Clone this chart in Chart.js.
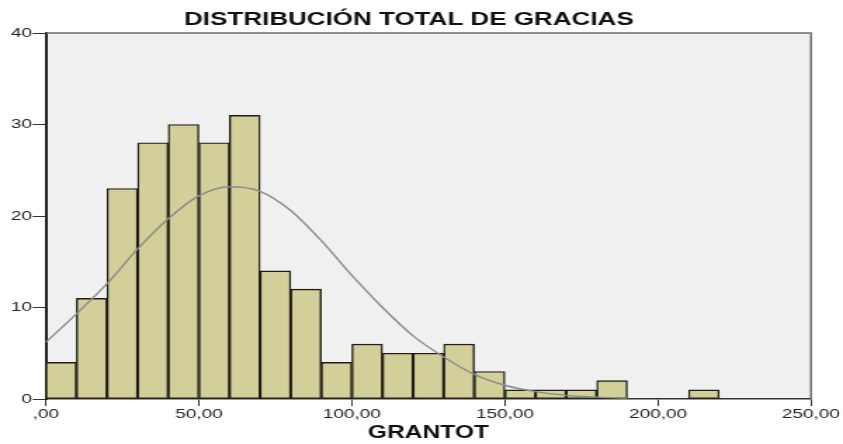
<!DOCTYPE html>
<html>
<head>
<meta charset="utf-8">
<script src="https://cdn.jsdelivr.net/npm/chart.js@4/dist/chart.umd.min.js"></script>
<style>
  body { margin: 0; background: #fff; }
</style>
</head>
<body>
<!-- canvas is drawn narrow and stretched, like the original export -->
<canvas id="myChart" width="600" height="444" style="width:843px;height:444px"></canvas>
<script>
var chartTitle = "DISTRIBUCIÓN TOTAL DE GRACIAS";
var axisTitle = "GRANTOT";

// histogram bins (centre of each 10-wide bin) and counts
var binCenters = [5, 15, 25, 35, 45, 55, 65, 75, 85, 95, 105, 115, 125, 135, 145, 155, 165, 175, 185, 195, 205, 215];
var counts = [4, 11, 23, 28, 30, 28, 31, 14, 12, 4, 6, 5, 5, 6, 3, 1, 1, 1, 2, 0, 0, 1];

// normal curve
var curveX = [0, 10, 20, 30, 40, 50, 60, 70, 80, 90, 100, 110, 120, 130, 140, 150, 160, 170, 180, 190];
var curveY = [6.2, 9.3, 12.6, 16.4, 19.7, 22.2, 23.2, 22.7, 20.6, 17.3, 13.5, 10.0, 6.9, 4.6, 2.7, 1.5, 0.8, 0.4, 0.2, 0.1];

var xTicks = [0, 50, 100, 150, 200, 250];
var xTickLabels = [",00", "50,00", "100,00", "150,00", "200,00", "250,00"];
var yTicks = [0, 10, 20, 30, 40];

var tickFont = { family: "'Liberation Sans', Arial, sans-serif", size: 13.5 };

var barData = [];
for (var i = 0; i < binCenters.length; i++) {
  barData.push({ x: binCenters[i], y: counts[i] });
}
var curveData = [];
for (var j = 0; j < curveX.length; j++) {
  curveData.push({ x: curveX[j], y: curveY[j] });
}

// grey plot background + top/right frame + title
var framePlugin = {
  id: "frame",
  beforeDraw: function(chart) {
    var a = chart.chartArea;
    var ctx = chart.ctx;
    ctx.save();
    ctx.fillStyle = "#f0f0f0";
    ctx.fillRect(a.left, a.top, a.right - a.left, a.bottom - a.top);
    ctx.restore();
  },
  afterDraw: function(chart) {
    var a = chart.chartArea;
    var ctx = chart.ctx;
    ctx.save();
    ctx.strokeStyle = "#6e6e6e";
    ctx.lineWidth = 1.5;
    ctx.beginPath();
    ctx.moveTo(a.left, a.top);
    ctx.lineTo(a.right, a.top);
    ctx.lineTo(a.right, a.bottom);
    ctx.stroke();
    ctx.fillStyle = "#111";
    ctx.font = "bold 18.5px 'Liberation Sans', Arial, sans-serif";
    ctx.textAlign = "center";
    ctx.textBaseline = "middle";
    ctx.fillText(chartTitle, 291, 19.5);
    ctx.restore();
  }
};

var ctx = document.getElementById("myChart").getContext("2d");
var chart = new Chart(ctx, {
  type: "bar",
  data: {
    datasets: [
      {
        type: "line",
        data: curveData,
        borderColor: "#8c8c8c",
        borderWidth: 1.4,
        pointRadius: 0,
        cubicInterpolationMode: "monotone",
        fill: false,
        order: 0
      },
      {
        type: "bar",
        data: barData,
        backgroundColor: "#d3cf98",
        borderColor: "#1e1e18",
        borderWidth: 1.4,
        borderSkipped: false,
        barPercentage: 1,
        categoryPercentage: 1,
        order: 1
      }
    ]
  },
  options: {
    responsive: false,
    devicePixelRatio: 1,
    animation: false,
    layout: { padding: { top: 33, right: 22.8, bottom: 0, left: 0 } },
    plugins: {
      legend: { display: false },
      tooltip: { enabled: false }
    },
    scales: {
      x: {
        type: "linear",
        min: 0,
        max: 250,
        offset: false,
        afterFit: function(s) { s.height = 45; },
        afterBuildTicks: function(s) {
          s.ticks = xTicks.map(function(v) { return { value: v }; });
        },
        ticks: {
          font: tickFont,
          color: "#222",
          padding: 0,
          maxRotation: 0,
          callback: function(v) { return xTickLabels[xTicks.indexOf(v)]; }
        },
        grid: { display: true, offset: false, drawOnChartArea: false, drawTicks: true, tickLength: 7, tickColor: "#333" },
        border: { display: true, color: "#333", width: 1.6 },
        title: {
          display: true,
          text: axisTitle,
          color: "#111",
          font: { family: "'Liberation Sans', Arial, sans-serif", size: 17.5, weight: "bold" },
          padding: { top: 0, bottom: 0 }
        }
      },
      y: {
        min: 0,
        max: 40,
        afterFit: function(s) { s.width = 32.6; },
        afterBuildTicks: function(s) {
          s.ticks = yTicks.map(function(v) { return { value: v }; });
        },
        ticks: { font: tickFont, color: "#222", padding: 0.5 },
        grid: { display: true, drawOnChartArea: false, drawTicks: true, tickLength: 9.3, tickColor: "#333" },
        border: { display: true, color: "#222", width: 2 }
      }
    }
  },
  plugins: [framePlugin]
});
</script>
</body>
</html>
